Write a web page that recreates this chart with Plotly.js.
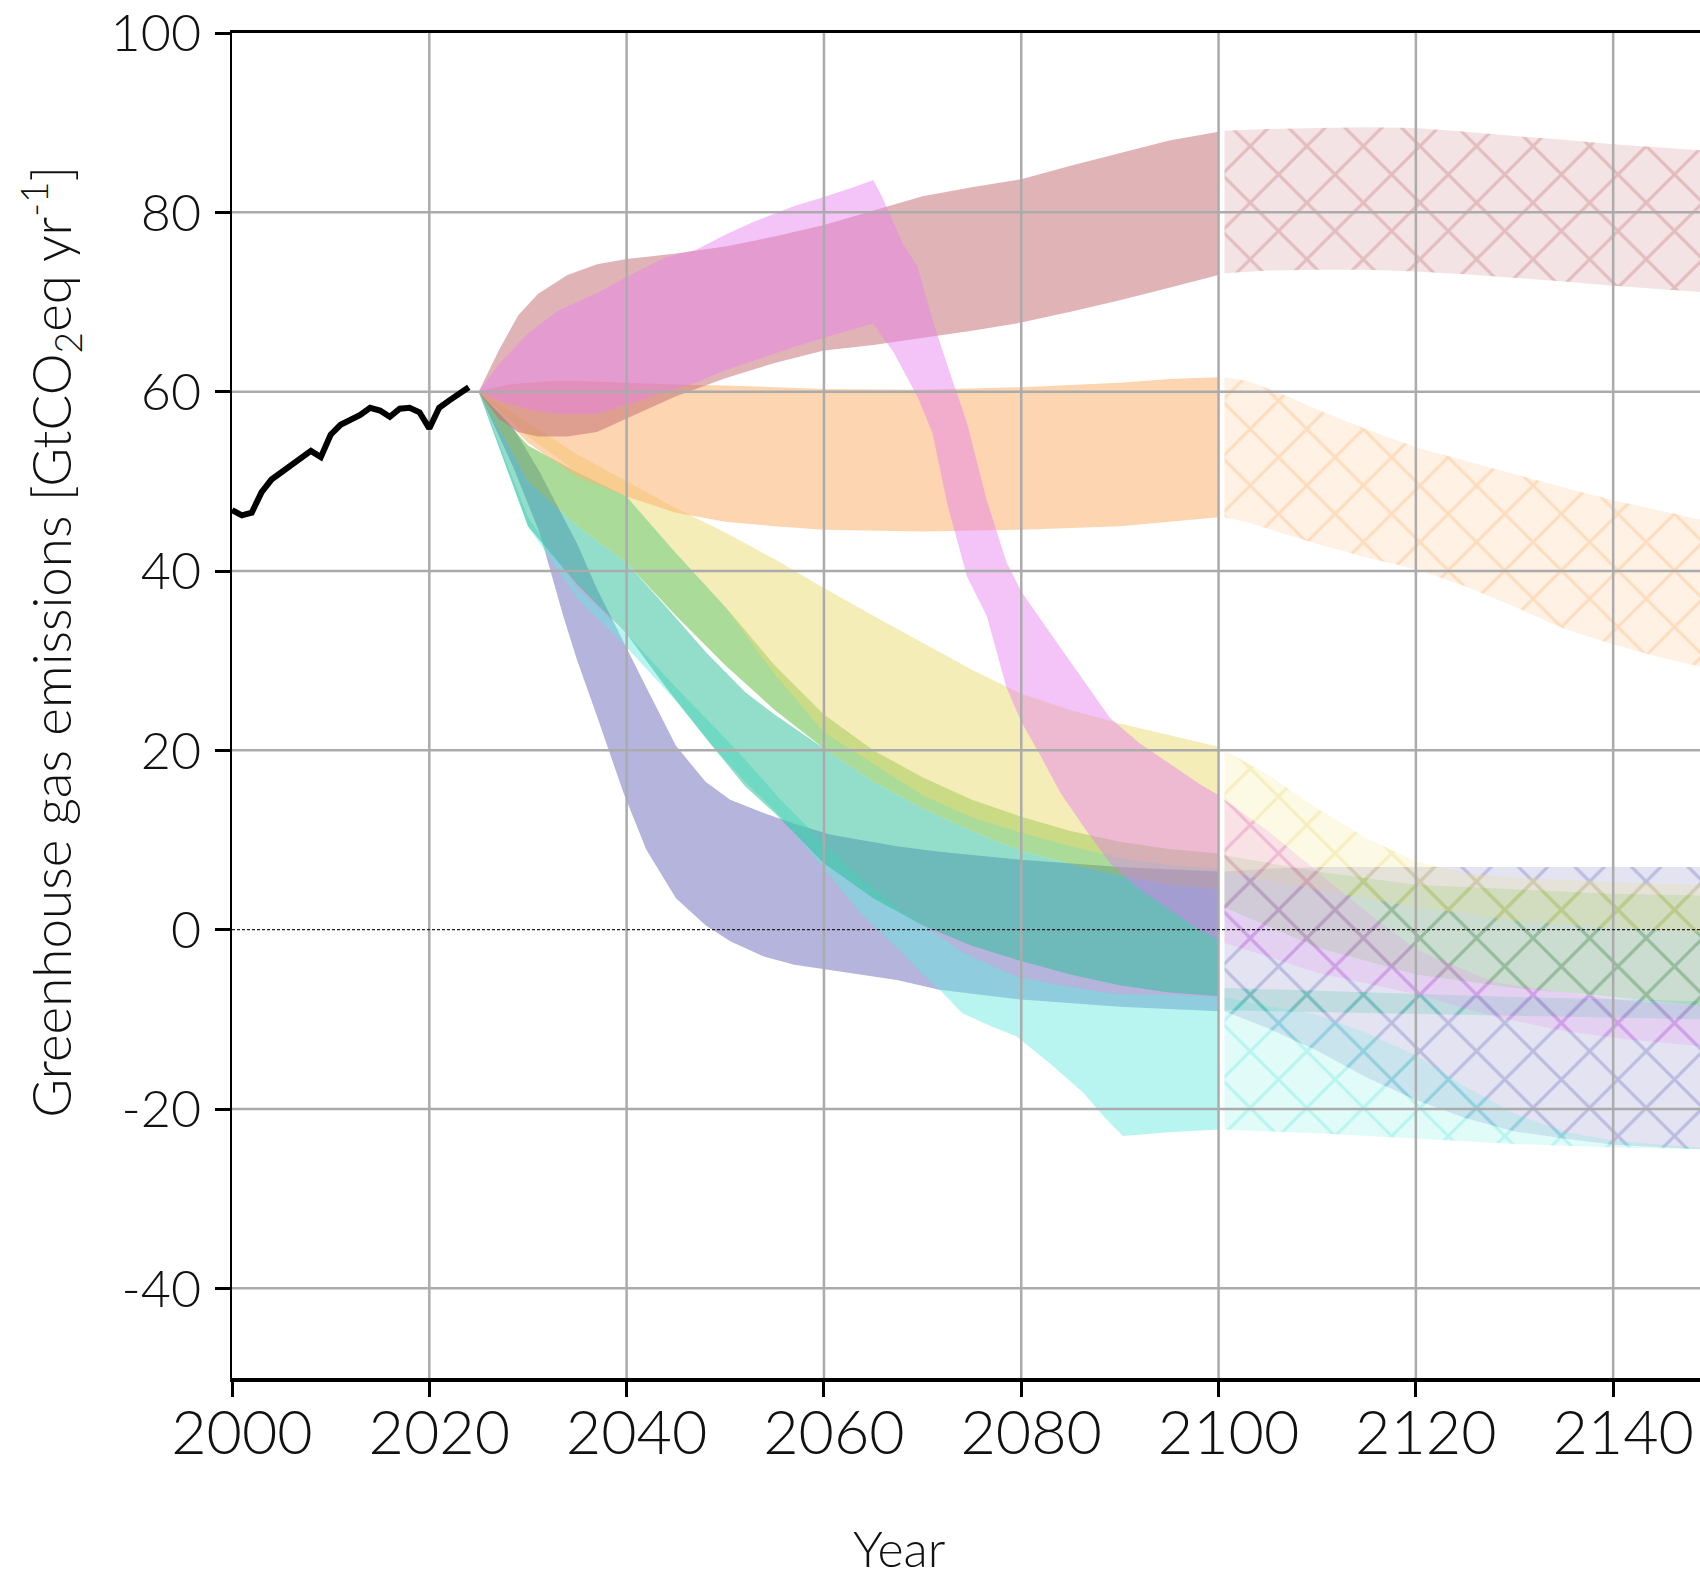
<!DOCTYPE html>
<html><head><meta charset="utf-8">
<script src="https://cdn.plot.ly/plotly-3.0.1.min.js"></script>
<style>html,body{margin:0;padding:0;background:#fff}#chart{width:1700px;height:1577px}</style>
</head><body><div id="chart"></div>
<script>
// ---------- DATA ----------
const xTicks = [2000, 2020, 2040, 2060, 2080, 2100, 2120, 2140];
const yTicks = [-40, -20, 0, 20, 40, 60, 80, 100];
const xRange = [2000, 2148.8];
const yRange = [-50, 100];

const histYears = [2000,2001,2002,2003,2004,2005,2006,2007,2008,2009,2010,2011,2012,2013,2014,2015,2016,2017,2018,2019,2020,2021,2022,2023,2024];
const histValues = [46.8,46.2,46.5,48.8,50.2,51.0,51.8,52.6,53.4,52.7,55.2,56.3,56.9,57.4,58.2,57.9,57.2,58.1,58.2,57.7,55.9,58.2,59.0,59.7,60.5];

const lavYears = [2025,2028.5,2031.2,2033.6,2035,2037,2039.7,2042,2045,2048,2050.5,2053.9,2057,2060.6,2067.4,2071.7,2080,2090,2100];
const lavUpper = [60,56,51,46,43,38,32,27,20.5,16.5,14.5,13,11.8,10.6,9.3,8.7,7.8,7,6.5];
const lavLower = [60,51.6,44.2,34.9,30,23.8,15.2,8.9,3.5,0.5,-1.3,-3,-3.9,-4.5,-5.6,-6.7,-7.8,-8.6,-9.1];
const lavHatchYears = [2100.6,2105,2110,2115,2120,2125,2130,2135,2140,2145,2149];
const lavHatchUpper = [6.5,6.8,7,7,7,7,7,7,7,7,7];
const lavHatchLower = [-9.1,-11,-13.5,-16.5,-19,-21,-22.5,-23.3,-24,-24.3,-24.5];

const cyanYears = [2025,2030,2035,2040,2045,2049,2052,2055.6,2060.6,2064,2067.4,2070,2072,2074,2077,2079.5,2083,2086.3,2088.5,2090.3,2095,2100];
const cyanUpper = [60,46,38,33,27,22.5,19,14.5,9,5.5,2.5,0.5,-1,-2.5,-4,-5.2,-6,-6.6,-7,-7.2,-7.3,-7.5];
const cyanLower = [60,45,37,31.5,25.5,20.1,16.5,12.6,6,1.5,-2,-5,-7,-9.3,-10.8,-11.9,-15,-18.2,-21,-23,-22.6,-22.3];
const cyanHatchYears = [2100.6,2105,2110,2115,2120,2125,2130,2135,2140,2145,2149];
const cyanHatchUpper = [-7.5,-8.5,-9.5,-11.5,-14,-17.5,-20.5,-22.5,-23.5,-24,-24.3];
const cyanHatchLower = [-22.3,-22.5,-22.7,-23,-23.3,-23.6,-23.9,-24.1,-24.3,-24.4,-24.5];

const tealYears = [2025,2030,2035,2040,2044,2048,2052,2055,2060,2065,2070,2075,2080,2085,2090,2095,2100];
const tealUpper = [60,50,45,40.9,36,31,26.5,24,20.2,16.5,13.5,11,8.8,7.3,6,5,4.5];
const tealLower = [60,45,38.5,33,27,21.4,16,13,7.4,3.5,0.5,-1.8,-3.5,-5,-6.2,-7,-7.4];
const tealHatchYears = [2100.6,2115,2130,2149];
const tealHatchUpper = [-6.5,-7,-7.5,-8];
const tealHatchLower = [-9,-9.3,-9.6,-10];

const greenYears = [2025,2030,2035,2040,2045,2050,2055,2060,2065,2070,2075,2080,2085,2090,2095,2100];
const greenUpper = [60,54,51,48.3,42,36,29.5,24,20,17,14.5,12.6,11,9.8,9,8.5];
const greenLower = [60,50,45,40.9,35,29.5,24.5,20.2,16.5,13.5,11,8.8,7.3,6,5,4.5];
const greenHatchYears = [2100.6,2110,2120,2130,2140,2149];
const greenHatchUpper = [8.3,6.5,5,4.5,4,3.8];
const greenHatchLower = [2.5,-2,-5,-6.5,-7.5,-8.5];

const yellowYears = [2025,2030,2035,2040,2045,2050,2055,2060,2065,2070,2075,2080,2085,2090,2095,2100];
const yellowUpper = [60,56.5,53,50,47,44.3,41.3,38.1,35,32,29,26.3,24.5,23,21.7,20.4];
const yellowLower = [60,55,51,48.3,42,36,28.5,22,18.5,15,12.5,10.8,9.3,8,7.2,6.8];
const yellowHatchYears = [2100.6,2105,2110,2115,2120,2125,2130,2140,2149];
const yellowHatchUpper = [20,17.3,13.5,10.2,7.6,6.3,5.8,5.3,5];
const yellowHatchLower = [6.5,5.5,4.5,3.5,2.5,1.8,1,0.2,-0.3];

const orangeYears = [2025,2028,2030,2033,2035,2040,2045,2050,2055,2060,2070,2080,2090,2095,2100];
const orangeUpper = [60,60.8,61,61.2,61.2,61,60.8,60.7,60.5,60.3,60.2,60.5,61,61.4,61.6];
const orangeLower = [60,56.5,54.3,52,50.5,48.3,46.5,45.5,45,44.6,44.4,44.6,45,45.5,46];
const orangeHatchYears = [2100.6,2103,2107,2110,2115,2120,2125,2130,2135,2140,2145,2149];
const orangeHatchUpper = [61.6,61.2,59.5,58,55.8,53.8,52.3,50.8,49.3,47.9,46.7,45.7];
const orangeHatchLower = [46,45.4,44,43,41.5,40.2,38.3,36,33.6,31.8,30.3,29.3];

const brownYears = [2025,2027,2029,2031,2034,2037,2040,2045,2050,2055,2060,2065,2070,2075,2080,2085,2090,2095,2100];
const brownUpper = [60,64.5,68.5,70.9,73,74.2,74.8,75.4,76.2,77.3,78.6,80.2,81.8,82.8,83.7,85.2,86.6,88,89];
const brownLower = [60,57,55.5,55,55,55.5,57,59.5,61.5,63.2,64.6,65.2,66,66.8,67.7,68.9,70.2,71.6,73];
const brownHatchYears = [2100.6,2105,2110,2115,2120,2125,2130,2135,2140,2145,2149];
const brownHatchUpper = [89.1,89.3,89.4,89.5,89.4,89,88.5,88.1,87.6,87.2,86.9];
const brownHatchLower = [73.2,73.5,73.6,73.6,73.4,73.1,72.7,72.3,71.8,71.4,71.1];

const magentaYears = [2025,2027,2030,2033,2037,2040,2044,2047,2050,2053,2057,2060,2063,2065,2066,2067,2068,2069.5,2071,2072.5,2074.5,2076.5,2078.5,2080,2082,2084,2086.5,2089,2092,2095,2098,2100];
const magentaUpper = [60,63,66.5,69,71,72.8,75,75.8,77.5,79,80.7,81.7,82.8,83.6,81.5,79,76.5,73.9,68,63,56.5,47.9,41,37.7,34.5,31.4,27.5,23.6,20.8,18.5,16.3,15];
const magentaLower = [60,59,58,57.5,57.5,58.5,60,61,62.4,63.5,65,66,67,67.6,66,64.5,62.5,59.4,55.4,47.5,39.4,35,27,23.2,19.3,15.2,11.2,7.4,4.5,2.2,0,-1.1];
const magentaHatchYears = [2100.6,2105,2110,2115,2120,2128,2135,2142,2149];
const magentaHatchUpper = [14.5,11,6.5,2,-2.2,-5.9,-7,-8,-8.5];
const magentaHatchLower = [-1.5,-3,-4.8,-6,-7.2,-9.7,-11.3,-12.3,-13];

// ---------- STYLE ----------
const FONT = 'Lato, "Open Sans", "Noto Sans", sans-serif';
const GRID = '#ababab';
const bands = [
  {rgb:'105,105,185', a:0.5,  ys:lavYears, up:lavUpper, lo:lavLower, hy:lavHatchYears, hu:lavHatchUpper, hl:lavHatchLower},
  {rgb:'97,232,222',  a:0.45, ys:cyanYears, up:cyanUpper, lo:cyanLower, hy:cyanHatchYears, hu:cyanHatchUpper, hl:cyanHatchLower},
  {rgb:'40,190,150',  a:0.5,  ys:tealYears, up:tealUpper, lo:tealLower, hy:tealHatchYears, hu:tealHatchUpper, hl:tealHatchLower},
  {rgb:'100,190,70',  a:0.55, ys:greenYears, up:greenUpper, lo:greenLower, hy:greenHatchYears, hu:greenHatchUpper, hl:greenHatchLower},
  {rgb:'235,219,113', a:0.5,  ys:yellowYears, up:yellowUpper, lo:yellowLower, hy:yellowHatchYears, hu:yellowHatchUpper, hl:yellowHatchLower},
  {rgb:'251,179,111', a:0.55, ys:orangeYears, up:orangeUpper, lo:orangeLower, hy:orangeHatchYears, hu:orangeHatchUpper, hl:orangeHatchLower},
  {rgb:'193,105,111', a:0.5,  ys:brownYears, up:brownUpper, lo:brownLower, hy:brownHatchYears, hu:brownHatchUpper, hl:brownHatchLower},
  {rgb:'231,124,239', a:0.45, ys:magentaYears, up:magentaUpper, lo:magentaLower, hy:magentaHatchYears, hu:magentaHatchUpper, hl:magentaHatchLower}
];

function poly(xs, up, lo) {
  return {
    x: xs.concat(xs.slice().reverse()),
    y: up.concat(lo.slice().reverse())
  };
}

const traces = [];
bands.forEach(b => {
  const p = poly(b.ys, b.up, b.lo);
  traces.push({type:'scatter', mode:'lines', x:p.x, y:p.y, fill:'toself',
    fillcolor:'rgba(' + b.rgb + ',' + b.a + ')', line:{width:0, color:'rgba(0,0,0,0)'},
    hoverinfo:'skip', showlegend:false});
});
bands.forEach(b => {
  const p = poly(b.hy, b.hu, b.hl);
  traces.push({type:'scatter', mode:'lines', x:p.x, y:p.y, fill:'toself',
    fillcolor:'rgba(' + b.rgb + ',0.19)', line:{width:0, color:'rgba(0,0,0,0)'},
    fillpattern:{shape:'x', size:40, solidity:0.15, fillmode:'replace',
      bgcolor:'rgba(' + b.rgb + ',0.19)', fgcolor:'rgba(' + b.rgb + ',0.32)'},
    hoverinfo:'skip', showlegend:false});
});
// grid lines on top of bands (derived from tick arrays)
xTicks.filter(t => t > xRange[0]).forEach(t => {
  traces.push({type:'scatter', mode:'lines', x:[t, t], y:yRange,
    line:{color:GRID, width:2.5}, hoverinfo:'skip', showlegend:false});
});
yTicks.filter(t => t !== 0 && t < yRange[1]).forEach(t => {
  traces.push({type:'scatter', mode:'lines', x:xRange, y:[t, t],
    line:{color:GRID, width:2.5}, hoverinfo:'skip', showlegend:false});
});
// zero reference line
traces.push({type:'scatter', mode:'lines', x:xRange, y:[0, 0],
  line:{color:'#222', width:1.4, dash:'3px,2px'}, hoverinfo:'skip', showlegend:false});
// historical emissions
traces.push({type:'scatter', mode:'lines', x:histYears, y:histValues,
  line:{color:'#000', width:6}, hoverinfo:'skip', showlegend:false});

const layout = {
  width:1700, height:1577,
  margin:{l:232, r:0, t:33, b:199},
  paper_bgcolor:'#fff', plot_bgcolor:'#fff',
  showlegend:false,
  font:{family:FONT, color:'#111', weight:300},
  xaxis:{range:xRange, tickvals:xTicks, ticktext:xTicks.map(String),
    showgrid:false, zeroline:false,
    showline:true, linecolor:'#000', linewidth:3.5, mirror:true,
    ticks:'outside', ticklen:15, tickwidth:3, tickcolor:'#000',
    tickfont:{family:FONT, size:61, color:'#111', weight:300},
    ticklabelstandoff:-16, ticklabelshift:10},
  yaxis:{range:yRange, tickvals:yTicks, ticktext:yTicks.map(String),
    showgrid:false, zeroline:false,
    showline:true, linecolor:'#000', linewidth:2.5,
    ticks:'outside', ticklen:15, tickwidth:3, tickcolor:'#000',
    tickfont:{family:FONT, size:52, color:'#111', weight:300}, ticklabelstandoff:3},
  annotations:[
    {text:'Year', xref:'paper', yref:'paper', x:0.455, y:-0.1264,
      xanchor:'center', yanchor:'middle', showarrow:false,
      font:{family:FONT, size:50, color:'#111', weight:300}},
    {text:'Greenhouse gas emissions [GtCO<sub>2</sub>eq yr<sup>-1</sup>]', xref:'paper', yref:'paper',
      x:-0.1236, y:0.547, xanchor:'center', yanchor:'middle', textangle:-90, showarrow:false,
      font:{family:FONT, size:53, color:'#111', weight:300}}
  ]
};

Plotly.newPlot('chart', traces, layout, {staticPlot:true, displayModeBar:false});
</script></body></html>
